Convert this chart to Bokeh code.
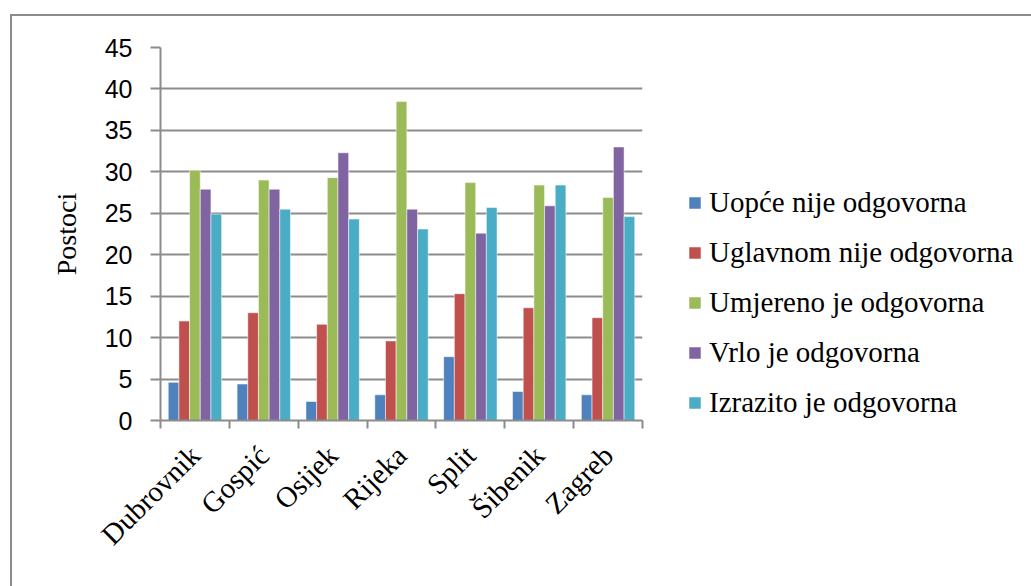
import math
from bokeh.plotting import figure
from bokeh.models import (FixedTicker, Legend, LegendItem, Range1d)
from bokeh.embed import file_html
from bokeh.resources import INLINE

cities = ["Dubrovnik", "Gospić", "Osijek", "Rijeka", "Split", "Šibenik", "Zagreb"]
series_names = ["Uopće nije odgovorna", "Uglavnom nije odgovorna", "Umjereno je odgovorna",
                "Vrlo je odgovorna", "Izrazito je odgovorna"]
uopce = [4.6, 4.4, 2.3, 3.1, 7.7, 3.5, 3.1]
uglavnom = [12.0, 13.0, 11.6, 9.6, 15.3, 13.6, 12.4]
umjereno = [30.2, 29.0, 29.3, 38.5, 28.7, 28.4, 26.9]
vrlo = [27.9, 27.9, 32.3, 25.5, 22.6, 25.9, 33.0]
izrazito = [24.9, 25.5, 24.3, 23.1, 25.7, 28.4, 24.6]
y_ticks = [0, 5, 10, 15, 20, 25, 30, 35, 40, 45]
y_label = "Postoci"

series = [uopce, uglavnom, umjereno, vrlo, izrazito]
colors = ["#4F81BD", "#C0504D", "#9BBB59", "#8064A2", "#4BACC6"]
grey = "#8C8C8C"
serif = "'Liberation Serif', serif"

p = figure(frame_width=482, frame_height=373, output_backend="svg", toolbar_location=None,
           x_range=Range1d(0, len(cities)), y_range=Range1d(0, 45),
           min_border_left=148, min_border_right=389, min_border_top=31,
           min_border_bottom=166)
p.styles = {"border-top": "2px solid " + grey, "border-left": "2px solid " + grey,
            "margin-left": "10px", "margin-top": "14px"}
p.outline_line_color = None
p.background_fill_color = "white"
p.border_fill_color = "white"

bw = 0.155
items = []
for j, (vals, name, col) in enumerate(zip(series, series_names, colors)):
    xs = [i + 0.5 + (j - 2) * bw for i in range(len(cities))]
    r = p.vbar(x=xs, top=vals, width=bw, bottom=0, fill_color=col,
               line_color="white", line_alpha=0.5, line_width=1)
    items.append(LegendItem(label=name, renderers=[r]))

# y axis
p.yaxis.ticker = FixedTicker(ticks=y_ticks)
p.yaxis.axis_line_color = grey
p.yaxis.axis_line_width = 2
p.yaxis.major_tick_line_color = grey
p.yaxis.major_tick_line_width = 2
p.yaxis.major_tick_out = 10
p.yaxis.major_tick_in = 0
p.yaxis.minor_tick_line_color = None
p.yaxis.major_label_text_font = "Liberation Sans"
p.yaxis.major_label_text_font_size = "25px"
p.yaxis.major_label_text_color = "black"
p.yaxis.major_label_standoff = 18
p.yaxis.axis_label = y_label
p.yaxis.axis_label_text_font = serif
p.yaxis.axis_label_text_font_size = "28px"
p.yaxis.axis_label_text_font_style = "normal"
p.yaxis.axis_label_text_color = "black"
p.yaxis.axis_label_standoff = 20

# x axis
centers = [i + 0.5 for i in range(len(cities))]
p.xaxis.ticker = FixedTicker(ticks=centers, minor_ticks=list(range(len(cities) + 1)))
p.xaxis.major_label_overrides = {c: name for c, name in zip(centers, cities)}
p.xaxis.axis_line_color = grey
p.xaxis.axis_line_width = 2
p.xaxis.major_tick_line_color = None
p.xaxis.major_tick_out = 0
p.xaxis.major_tick_in = 0
p.xaxis.minor_tick_line_color = grey
p.xaxis.minor_tick_line_width = 2
p.xaxis.minor_tick_out = 8
p.xaxis.minor_tick_in = 0
p.xaxis.major_label_orientation = math.pi / 4
p.xaxis.major_label_text_font = serif
p.xaxis.major_label_text_font_size = "29px"
p.xaxis.major_label_text_color = "black"
p.xaxis.major_label_standoff = 22

p.xgrid.grid_line_color = None
p.ygrid.grid_line_color = grey
p.ygrid.grid_line_width = 2
p.ygrid.ticker = FixedTicker(ticks=y_ticks)

legend = Legend(items=items, location=(45, 1), border_line_alpha=0,
                background_fill_alpha=0, padding=0, margin=0,
                glyph_width=15, glyph_height=15, label_standoff=7,
                label_text_font=serif, label_text_font_size="29px",
                label_text_color="black", spacing=17, label_height=28)
p.add_layout(legend, "right")

open("out.html", "w").write(file_html(p, INLINE))
